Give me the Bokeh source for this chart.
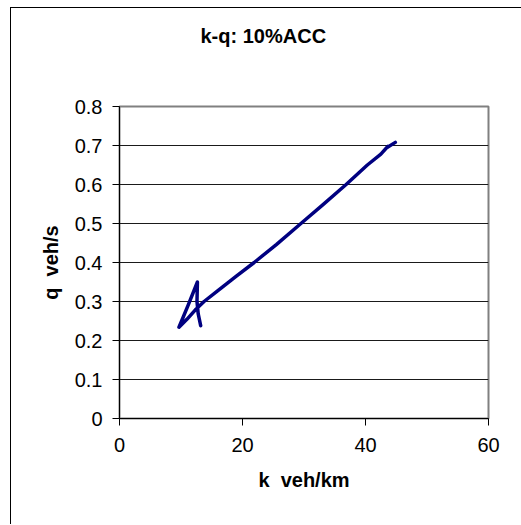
from bokeh.plotting import figure
from bokeh.models import FixedTicker, Title
from bokeh.embed import file_html
from bokeh.resources import INLINE

# data: density k (veh/km) and flow q (veh/s), traced along the trajectory
k_vals = [13.2, 12.8, 12.6, 12.67, 11.2, 9.67, 11.0, 12.3, 13.75, 16.0, 19.0, 21.9,
          25.5, 29.5, 33.0, 36.85, 40.3, 42.5, 43.65, 43.45, 44.85]
q_vals = [0.238, 0.268, 0.300, 0.350, 0.292, 0.234, 0.255, 0.278, 0.300, 0.328, 0.365, 0.400,
          0.446, 0.500, 0.547, 0.600, 0.650, 0.678, 0.698, 0.694, 0.708]

x_ticks = [0, 20, 40, 60]
y_ticks = [0, 0.1, 0.2, 0.3, 0.4, 0.5, 0.6, 0.7, 0.8]
y_tick_labels = ["0", "0.1", "0.2", "0.3", "0.4", "0.5", "0.6", "0.7", "0.8"]
x_tick_labels = ["0", "20", "40", "60"]

FONT = "Liberation Sans"

p = figure(width=511, height=517, output_backend="svg", toolbar_location=None,
           x_range=(0, 60), y_range=(0, 0.8),
           min_border_left=108, min_border_right=34, min_border_top=98, min_border_bottom=107,
           title=None)
p.styles = {"border-left": "1px solid black", "border-top": "1px solid black",
            "margin-left": "10px", "margin-top": "7px"}

spacer = Title(text="\u00a0", text_font=FONT, text_font_size="52px", standoff=0)
p.add_layout(spacer, "above")
title = Title(text="k-q: 10%ACC", align="left", offset=81, text_font=FONT,
              text_font_size="20px", text_font_style="bold", text_color="black", standoff=0)
p.add_layout(title, "above")

p.line(k_vals, q_vals, line_color="#000080", line_width=3.5, line_join="round", line_cap="round")

p.background_fill_color = "white"
p.border_fill_color = "white"
p.outline_line_color = "#808080"
p.outline_line_width = 2

p.xgrid.grid_line_color = None
p.ygrid.grid_line_color = "#1a1a1a"
p.ygrid.grid_line_width = 1
p.ygrid.ticker = FixedTicker(ticks=y_ticks)

p.xaxis.ticker = FixedTicker(ticks=x_ticks)
p.yaxis.ticker = FixedTicker(ticks=y_ticks)
p.xaxis.major_label_overrides = {t_: l for t_, l in zip(x_ticks, x_tick_labels)}
p.yaxis.major_label_overrides = {t_: l for t_, l in zip(y_ticks, y_tick_labels)}

for ax in (p.xaxis[0], p.yaxis[0]):
    ax.axis_line_color = "black"
    ax.axis_line_width = 1
    ax.major_tick_line_color = "black"
    ax.major_tick_out = 7
    ax.major_tick_in = 0
    ax.minor_tick_line_color = None
    ax.major_label_text_font = FONT
    ax.major_label_text_font_size = "20px"
    ax.major_label_text_color = "black"
    ax.axis_label_text_font = FONT
    ax.axis_label_text_font_size = "20px"
    ax.axis_label_text_font_style = "bold"
    ax.axis_label_text_color = "black"

p.xaxis.axis_label = "k\u00a0\u00a0veh/km"
p.yaxis.axis_label = "q\u00a0\u00a0veh/s"
p.xaxis.major_label_standoff = 12
p.yaxis.major_label_standoff = 10
p.xaxis.axis_label_standoff = 14
p.yaxis.axis_label_standoff = 10

open("out.html", "w").write(file_html(p, INLINE))
